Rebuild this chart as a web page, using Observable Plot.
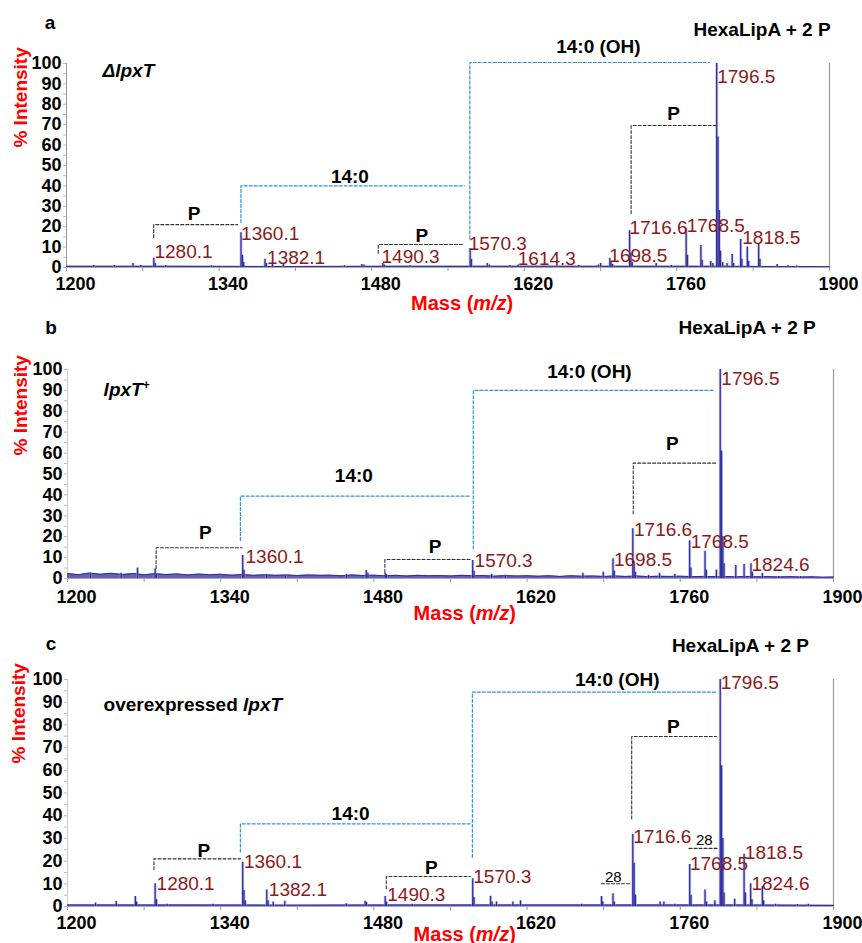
<!DOCTYPE html>
<html><head><meta charset="utf-8">
<script src="https://cdn.jsdelivr.net/npm/d3@7"></script>
<script src="https://cdn.jsdelivr.net/npm/@observablehq/plot@0.6"></script>
<style>
body{margin:0;background:#fff;}
#chart svg{display:block;}
</style></head><body><div id="chart"></div>
<script>
// ---------- data ----------
const xTickLabels = [1200, 1340, 1480, 1620, 1760, 1900];
const xMinorTicks = [1200, 1270, 1340, 1410, 1480, 1550, 1620, 1690, 1760, 1830, 1900];
const yTickLabels = [0, 10, 20, 30, 40, 50, 60, 70, 80, 90, 100];
const yMinorTicks = [5, 15, 25, 35, 45, 55, 65, 75, 85, 95];

// peaks: [m/z, % intensity]
const peaksA = [[1225,1],[1244,1],[1261,2],[1268,1],[1280.1,4.5],[1281.4,2],[1291,0.8],[1333,0.8],
  [1360.1,17],[1361.4,6],[1362.6,2.5],[1382.1,4],[1383.4,2],[1389,2],[1399,1.8],[1455,0.8],[1471,1.5],[1473,1.2],
  [1490.3,2],[1491.5,1.2],[1515,0.8],[1570.3,9.3],[1571.5,4],[1586,2],[1588,1.2],[1607,1],[1614.3,1.2],[1650,0.8],
  [1670,1],[1688,1.2],[1690,2],[1698.5,4.5],[1699.6,2.5],[1701,1.5],[1716.6,18],[1717.8,7],[1719,2.5],[1741,2],[1755,1],
  [1768.5,19],[1769.7,6],[1782,10.8],[1783.2,3.5],[1791,3],[1793,2],[1796.5,100],[1797.7,64],[1798.9,28],[1800,8],
  [1802,2.5],[1806,2],[1810.7,6.4],[1812,2],[1818.5,13.7],[1819.6,4],[1824.6,10],[1825.8,3],[1835,11.3],[1836.2,4],
  [1852,1.5],[1862,1],[1870,0.7]];
const peaksB = [[1221,2.5],[1249,2.5],[1264,5],[1280.1,4.6],[1281.3,2],[1360.1,11],[1361.3,4],[1382,1.5],[1399,1],
  [1455,2],[1473,3.8],[1474.5,2.5],[1490.3,2.5],[1491.5,1.8],[1570.3,8.6],[1571.5,3.5],[1587.6,2],[1600,1.5],
  [1671,2.5],[1689.6,3],[1698.5,9.4],[1699.7,3.5],[1716.6,23.8],[1717.8,8],[1719,3],[1731,1.5],[1741,2.5],[1755,2],
  [1768.5,18],[1769.7,5],[1782.6,13],[1783.8,4],[1793,4],[1796.5,100],[1797.7,61],[1798.9,20],[1800,7],
  [1810.7,6.2],[1818.3,6.7],[1824.6,7],[1825.8,3],[1835,2.5],[1850,1],[1870,1]];
const peaksC = [[1225.6,1.5],[1244.5,2.2],[1262,4.4],[1263.2,2],[1280.1,10],[1281.3,3],[1291,1],[1333,1],
  [1360.1,19.5],[1361.3,7],[1362.5,2.5],[1382.1,7.3],[1383.3,2.5],[1388,2],[1398.6,2.3],[1454.7,1.2],[1472,2.3],
  [1473.2,1.8],[1490.3,4.4],[1491.5,2],[1515,1],[1570.3,12.2],[1571.5,4],[1586.6,4.5],[1588,2],[1592,2],[1607,2],
  [1614,2.5],[1670,1],[1688,4.4],[1689.2,2],[1698.5,5.6],[1699.7,2],[1716.6,31.7],[1717.8,19],[1719,5],[1741.5,2],
  [1745,2],[1755,1],[1768.6,18.5],[1769.8,5],[1782.6,7.3],[1784,2],[1791.6,2.5],[1796.5,100],[1797.7,62],
  [1798.9,30],[1800,6],[1809.7,3.2],[1818.3,23],[1819.5,6],[1824.3,10],[1825.5,3],[1835,8.8],[1836.2,2.5],
  [1847,1],[1867,0.8],[1877,1]];

// baseline / noise levels: [m/z, %]
const baseA = [[1200,0.6],[1300,0.6],[1400,0.5],[1500,0.6],[1600,0.6],[1700,0.6],[1800,0.6],[1900,0.4]];
const baseB = [[1200,2.4],[1210,1.8],[1220,2.6],[1230,2.0],[1240,2.5],[1250,1.9],[1260,2.4],[1270,1.8],
  [1280,2.3],[1290,1.9],[1300,2.2],[1310,1.7],[1320,2.1],[1330,1.8],[1340,2.0],[1350,1.6],[1360,1.9],
  [1370,1.5],[1380,1.8],[1390,1.5],[1400,1.7],[1410,1.4],[1420,1.7],[1430,1.5],[1440,1.6],[1450,1.3],
  [1460,1.7],[1470,1.4],[1480,1.6],[1490,1.3],[1500,1.5],[1510,1.2],[1520,1.5],[1530,1.3],[1540,1.4],
  [1550,1.2],[1560,1.5],[1570,1.3],[1580,1.4],[1590,1.1],[1600,1.4],[1610,1.2],[1620,1.3],[1630,1.1],
  [1640,1.3],[1650,1.0],[1660,1.3],[1670,1.1],[1680,1.2],[1690,1.0],[1700,1.2],[1710,1.0],[1720,1.2],
  [1730,0.9],[1740,1.1],[1750,1.0],[1760,1.1],[1770,0.9],[1780,1.0],[1790,0.9],[1800,1.0],[1810,0.8],
  [1820,1.0],[1830,0.8],[1840,0.9],[1850,0.7],[1860,0.9],[1870,0.7],[1880,0.8],[1890,0.6],[1900,0.7]];
const baseC = [[1200,0.7],[1300,0.7],[1400,0.6],[1500,0.7],[1600,0.7],[1700,0.7],[1800,0.7],[1900,0.5]];

// peak labels: [text, m/z, %]
const labelsA = [["1280.1",1280.7,7.4],["1360.1",1360.2,16.5],["1382.1",1384,4.8],["1490.3",1489,5.4],
  ["1570.3",1569,11.6],["1614.3",1614,4.2],["1698.5",1698,5.9],["1716.6",1716.5,19.3],["1768.5",1769,20.6],
  ["1796.5",1797,93.6],["1818.5",1820,14.6]];
const labelsB = [["1360.1",1362.7,10.5],["1570.3",1572,8.6],["1698.5",1699.4,8.9],["1716.6",1717.7,23.3],
  ["1768.5",1769.5,17.4],["1796.5",1797.5,95.5],["1824.6",1825,6.7]];
const labelsC = [["1280.1",1281.4,10],["1360.1",1361.2,19.5],["1382.1",1384,7.5],["1490.3",1492.2,5.2],
  ["1570.3",1570.8,12.9],["1716.6",1717,30.5],["1768.5",1768.8,18.8],["1796.5",1796.9,98.4],
  ["1818.5",1819,23.5],["1824.6",1825,10]];

// mass-difference brackets: [kind, m/z start, % start, % top, m/z end]
const bracketsA = [["P",1280,14.7,21,1357],["14:0",1360,22,40,1565],["P",1486,7,11.3,1563],
  ["14:0",1570,14,100.5,1790],["P",1718,26.5,69.6,1796]];
const bracketsB = [["P",1281,4.8,14.7,1359.7],["14:0",1358,18.2,39.4,1568],["P",1490,3,9.1,1568],
  ["14:0",1570.8,14.2,90,1790.8],["P",1717,31,55.2,1792.3]];
const bracketsC = [["P",1279,16.2,21,1358],["14:0",1358,24,36.4,1568],["P",1491.3,7.8,13.2,1568],
  ["14:0",1570,21.7,94.4,1793],["P",1715.6,38.6,74.9,1793],["28",1688,10,10,1715],["28",1768,25.6,25.6,1795]];

// bracket labels: [text, m/z, %]
const bracketLabelsA = [["P",1317,26.3],["14:0",1460,44.3],["P",1526,15.7],["14:0 (OH)",1688,108],["P",1757,75.3]];
const bracketLabelsB = [["P",1326,21.7],["14:0",1461.7,49],["P",1536,15.3],["14:0 (OH)",1677,99],["P",1752.7,64.4]];
const bracketLabelsC = [["P",1324.6,24.7],["14:0",1458.7,40.8],["P",1532.4,17],["14:0 (OH)",1702.4,99.8],["P",1753.7,79.3]];
const smallLabelsC = [["28",1698.8,12.9],["28",1782,29]];

const panelLetters = ["a", "b", "c"];
const strainNames = ["ΔlpxT", "lpxT+", "overexpressed lpxT"];
const speciesTitle = "HexaLipA + 2 P";
const xTitle = "Mass (m/z)";
const yTitle = "% Intensity";

// ---------- drawing ----------
const FONT = "'Liberation Sans', Arial, Helvetica, sans-serif";
const NAVY = "#2e2e9c";
const DARKRED = "#8b1a1a";
const BLUE = "#2f95e0";

const layout = [
  {h: 310, mt: 63, mb: 43, ml: 66, mr: 33, peaks: peaksA, base: baseA, labels: labelsA,
   brackets: bracketsA, blabels: bracketLabelsA, small: [],
   letterY: 120, titleX: 1901, titleY: 116.5, strainY: 96.6, massDy: 42, yTitleY: 58.8, yTitleDx: -46, tickPad: 10},
  {h: 310, mt: 59, mb: 42, ml: 67, mr: 29, peaks: peaksB, base: baseB, labels: labelsB,
   brackets: bracketsB, blabels: bracketLabelsB, small: [],
   letterY: 120, titleX: 1883.7, titleY: 120, strainY: 90.4, massDy: 41, yTitleY: 58.9, yTitleDx: -47, tickPad: 12},
  {h: 323, mt: 59, mb: 37, ml: 67, mr: 29, peaks: peaksC, base: baseC, labels: labelsC,
   brackets: bracketsC, blabels: bracketLabelsC, small: smallLabelsC,
   letterY: 115.9, titleX: 1877.6, titleY: 115, strainY: 89, massDy: 34, yTitleY: 63, yTitleDx: -49, tickPad: 10}
];

function bracketPoints(list, kinds) {
  const pts = [];
  list.forEach((b, i) => {
    if (!kinds.includes(b[0])) return;
    if (b[2] !== b[3]) pts.push({x: b[1], y: b[2], z: i});
    pts.push({x: b[1], y: b[3], z: i});
    pts.push({x: b[4], y: b[3], z: i});
  });
  return pts;
}

function richify(svg) {
  d3.select(svg).selectAll("text").each(function () {
    const t = this.textContent;
    const sel = d3.select(this);
    if (t === xTitle) {
      sel.text(null);
      sel.append("tspan").text("Mass (");
      sel.append("tspan").attr("font-style", "italic").text("m/z");
      sel.append("tspan").text(")");
    } else if (t === "lpxT+") {
      sel.text(null);
      sel.append("tspan").attr("font-style", "italic").text("lpxT");
      sel.append("tspan").attr("font-size", "12px").attr("dy", "-0.55em").text("+");
    } else if (t === "overexpressed lpxT") {
      sel.text(null);
      sel.append("tspan").text("overexpressed ");
      sel.append("tspan").attr("font-style", "italic").text("lpxT");
    }
  });
}

const root = document.getElementById("chart");
layout.forEach((p, i) => {
  const svg = Plot.plot({
    width: 862, height: p.h,
    marginTop: p.mt, marginBottom: p.mb, marginLeft: p.ml, marginRight: p.mr,
    style: {fontFamily: FONT, fontSize: "18px", fontWeight: "bold", color: "#000", background: "#fff", overflow: "visible"},
    x: {domain: [1200, 1900], label: null},
    y: {domain: [0, 100], label: null},
    marks: [
      // minor ticks
      Plot.axisX({ticks: xMinorTicks, tickSize: 4, text: null, stroke: "#999", label: null}),
      Plot.axisY({ticks: yMinorTicks, tickSize: 3, text: null, stroke: "#bbb", label: null}),
      Plot.axisY({ticks: yTickLabels, tickSize: 3, stroke: "#bbb", tickPadding: 2, tickFormat: d => String(d), fontSize: 18, fontWeight: "bold", label: null}),
      Plot.axisX({ticks: xTickLabels, tickSize: 0, tickPadding: p.tickPad, dx: 9, tickFormat: d => String(d), fontSize: 18, fontWeight: "bold", label: null}),
      // frame lines
      Plot.ruleX([1200], {y1: 0, y2: 100, stroke: i === 0 ? "#999" : "#ccc", strokeWidth: 1}),
      Plot.ruleX([1900], {y1: 0, y2: 100, stroke: "#999", strokeWidth: 1.2}),
      // baseline noise
      Plot.areaY(p.base, {x: d => d[0], y: d => d[1], fill: NAVY, fillOpacity: 0.75}),
      Plot.lineY(p.base, {x: d => d[0], y: d => d[1], stroke: NAVY, strokeWidth: 1}),
      Plot.ruleY([0], {stroke: "#aaa", strokeWidth: 1}),
      // peaks
      Plot.ruleX(p.peaks, {x: d => d[0], y1: 0, y2: d => d[1], stroke: "#9a9ad8", strokeWidth: 3, strokeOpacity: 0.55}),
      Plot.ruleX(p.peaks, {x: d => d[0], y1: 0, y2: d => d[1], stroke: NAVY, strokeWidth: 1.3}),
      // brackets
      Plot.line(bracketPoints(p.brackets, ["P", "28"]), {x: "x", y: "y", z: "z", stroke: "#333", strokeWidth: 1.1, strokeDasharray: "3,2", curve: "linear"}),
      Plot.line(bracketPoints(p.brackets, ["14:0"]), {x: "x", y: "y", z: "z", stroke: BLUE, strokeWidth: 1.2, strokeDasharray: "3,2", curve: "linear"}),
      Plot.text(p.blabels, {x: d => d[1], y: d => d[2], text: d => d[0], fontSize: 19, fontWeight: "bold", fill: "#000"}),
      Plot.text(p.small, {x: d => d[1], y: d => d[2], text: d => d[0], fontSize: 15, fontWeight: "normal", fill: "#000"}),
      // peak labels
      Plot.text(p.labels, {x: d => d[1], y: d => d[2], text: d => d[0], textAnchor: "start", fontSize: 19, fontWeight: "normal", fill: DARKRED}),
      // panel letter, title, strain
      Plot.text([panelLetters[i]], {x: 1185, y: p.letterY, text: d => d, fontSize: 19, fontWeight: "bold", fill: "#000"}),
      Plot.text([speciesTitle], {x: p.titleX, y: p.titleY, text: d => d, textAnchor: "end", fontSize: 19, fontWeight: "bold", fill: "#000"}),
      Plot.text([strainNames[i]], {x: 1233, y: p.strainY, text: d => d, textAnchor: "start", fontSize: 19, fontWeight: "bold",
        fontStyle: i === 0 ? "italic" : "normal", fill: "#000"}),
      // axis titles
      Plot.text([xTitle], {x: 1563, frameAnchor: "bottom", dy: p.massDy, text: d => d, fontSize: 20, fontWeight: "bold", fill: "#ff0000"}),
      Plot.text([yTitle], {y: p.yTitleY, frameAnchor: "left", dx: p.yTitleDx, rotate: -90, text: d => d, fontSize: 19, fontWeight: "bold", fill: "#ff0000"})
    ]
  });
  richify(svg);
  root.appendChild(svg);
});
</script>
</body></html>
